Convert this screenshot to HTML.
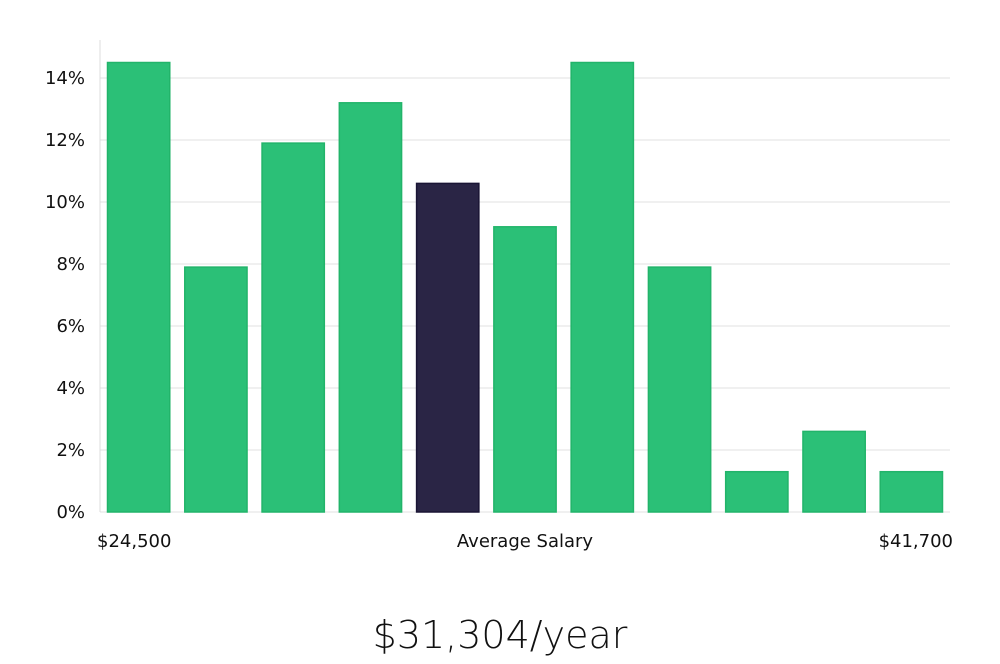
<!DOCTYPE html>
<html><head><meta charset="utf-8"><style>
body{margin:0;background:#fff;width:1000px;height:660px;overflow:hidden;font-family:"DejaVu Sans","Liberation Sans",sans-serif;}
</style></head><body>
<svg width="1000" height="660">
<g id="grid"></g><g id="bars"></g><g id="labels"></g>
<line x1="100" y1="40" x2="100" y2="512" stroke="#ddd" stroke-width="1"/>
<text x="97" y="547" font-size="18" fill="#111">$24,500</text>
<text x="525" y="547" font-size="18" fill="#111" text-anchor="middle">Average Salary</text>
<text x="953" y="547" font-size="18" fill="#111" text-anchor="end">$41,700</text>
<text x="500" y="648" font-size="38" fill="#111" text-anchor="middle" font-weight="300">$31,304/year</text>
</svg>
<script>
const values=[14.5,7.9,11.9,13.2,10.6,9.2,14.5,7.9,1.3,2.6,1.3];
const highlightIndex=4;
const yTicks=[0,2,4,6,8,10,12,14];
const ns="http://www.w3.org/2000/svg";
const x0=100,x1=950,yBase=512,pxPerPct=31;
const y=v=>yBase-v*pxPerPct;
const band=(x1-x0)/values.length;
const g=document.getElementById('grid'),b=document.getElementById('bars'),l=document.getElementById('labels');
yTicks.forEach(t=>{
  const ln=document.createElementNS(ns,'line');
  
  
  ln.setAttribute('x1',x0);ln.setAttribute('x2',x1);ln.setAttribute('y1',y(t));ln.setAttribute('y2',y(t));
  ln.setAttribute('stroke','#e0e0e0');g.appendChild(ln);
  const tx=document.createElementNS(ns,'text');
  
  
  tx.setAttribute('x',85);tx.setAttribute('y',y(t)+6);tx.setAttribute('text-anchor','end');
  tx.setAttribute('font-size','18');tx.setAttribute('fill','#111');tx.textContent=t+'%';l.appendChild(tx);
});
values.forEach((v,i)=>{
  const r=document.createElementNS(ns,'rect');
  
  
  const hl=i===highlightIndex;
  r.setAttribute('x',x0+i*band+7.5);r.setAttribute('width',band-15);
  r.setAttribute('y',y(v));r.setAttribute('height',v*pxPerPct);
  r.setAttribute('fill',hl?'#2a2545':'#2bc077');
  r.setAttribute('stroke',hl?'#1a1535':'#22b46a');r.setAttribute('stroke-width','1.5');
  b.appendChild(r);
});
</script>
</body></html>
